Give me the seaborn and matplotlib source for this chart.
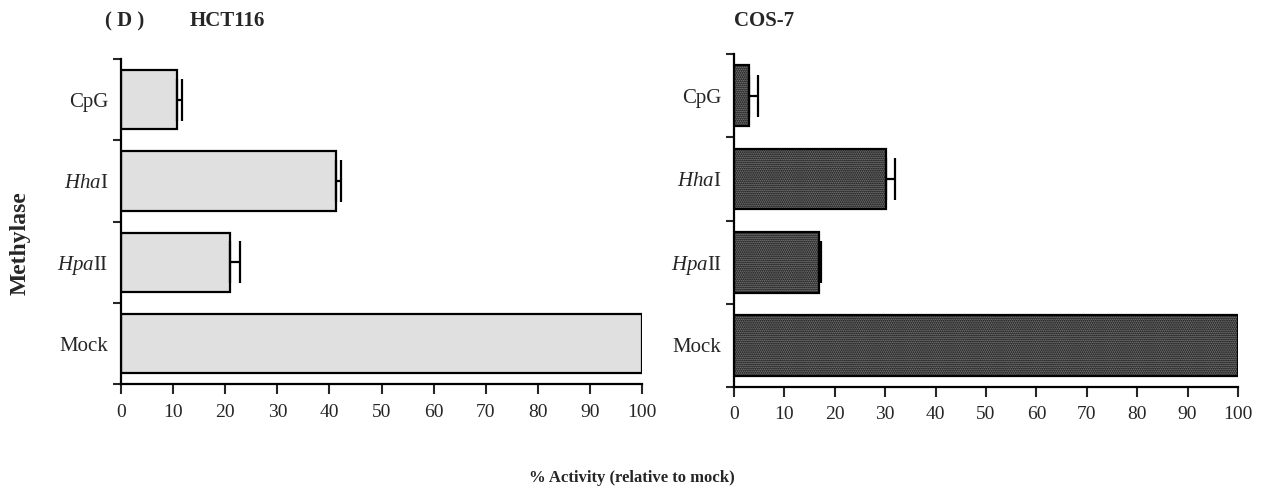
import matplotlib
matplotlib.use("Agg")
import matplotlib.pyplot as plt
import seaborn as sns
import numpy as np

sns.set_theme(style="ticks")
plt.rcParams["font.family"] = ["Liberation Serif", "DejaVu Serif"]
plt.rcParams["mathtext.fontset"] = "custom"
plt.rcParams["mathtext.it"] = "Liberation Serif:italic"
plt.rcParams["mathtext.rm"] = "Liberation Serif"
plt.rcParams["hatch.linewidth"] = 0.9

# Methylase treatments, top to bottom
categories = ["CpG", r"$\mathit{Hha}$I", r"$\mathit{Hpa}$II", "Mock"]

# % activity relative to mock, with upper error (mock is the reference, no error)
hct_values = [10.8, 41.2, 20.9, 100.0]
hct_err = [1.0, 1.1, 1.9, 0.0]
cos_values = [3.0, 30.2, 16.9, 100.0]
cos_err = [1.8, 1.7, 0.3, 0.0]

xticks = list(range(0, 101, 10))

fig = plt.figure(figsize=(12.64, 4.92), dpi=100)
ax1 = fig.add_axes([0.0957, 0.2189, 0.4124, 0.6612])
ax2 = fig.add_axes([0.5807, 0.2134, 0.3987, 0.6768])


def draw_panel(ax, values, errs, face, hatch=None):
    sns.barplot(x=values, y=categories, orient="h", ax=ax, color=face,
                saturation=1, edgecolor="black", linewidth=1.6, width=0.73,
                hatch=hatch)
    ypos = np.arange(len(categories))
    vals = np.asarray(values)
    errs = np.asarray(errs)
    has_err = errs > 0
    ax.errorbar(vals[has_err], ypos[has_err],
                xerr=[np.zeros(has_err.sum()), errs[has_err]], fmt="none",
                ecolor="black", elinewidth=1.6, capsize=15, capthick=1.6)
    ax.set_xlim(0, 100)
    ax.set_ylim(len(categories) - 0.5, -0.5)
    ax.set_xticks(xticks)
    ax.set_xticklabels([str(t) for t in xticks], fontsize=14)
    # category boundaries carry the y ticks; labels sit between them
    ax.set_yticks(ypos)
    ax.set_yticklabels(categories, fontsize=15)
    ax.set_yticks(np.arange(-0.5, len(categories) + 0.5, 1), minor=True)
    ax.tick_params(axis="y", which="major", length=0, pad=9)
    ax.tick_params(axis="y", which="minor", length=6, width=1.5, direction="out")
    ax.tick_params(axis="x", length=7, width=1.5, direction="out", pad=7)
    for side in ("top", "right"):
        ax.spines[side].set_visible(False)
    for side in ("left", "bottom"):
        ax.spines[side].set_linewidth(1.6)
        ax.spines[side].set_color("black")
    ax.set_xlabel("")
    ax.set_ylabel("")


draw_panel(ax1, hct_values, hct_err, "#e0e0e0")
draw_panel(ax2, cos_values, cos_err, "#7a7a7a", hatch="........")

title_kw = dict(fontsize=15, fontweight="bold", ha="left", va="center")
fig.text(0.083, 0.957, "( D )", **title_kw)
fig.text(0.150, 0.957, "HCT116", **title_kw)
fig.text(0.581, 0.957, "COS-7", **title_kw)
fig.text(0.016, 0.505, "Methylase", fontsize=17, fontweight="bold", rotation=90,
         ha="center", va="center")
fig.text(0.5, 0.028, "% Activity (relative to mock)", fontsize=12,
         fontweight="bold", ha="center", va="center")

fig.savefig("out.png", dpi=100)
